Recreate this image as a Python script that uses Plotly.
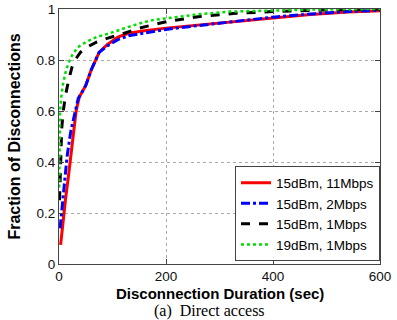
import plotly.graph_objects as go

# ---- data ----
red_x = [3, 5, 8, 12, 18, 25, 32, 38, 42, 50, 60, 68, 75, 90, 110, 130, 160, 200, 260, 330, 400, 470, 540, 600]
red_y = [0.075, 0.12, 0.18, 0.25, 0.35, 0.48, 0.60, 0.655, 0.67, 0.70, 0.76, 0.80, 0.83, 0.86, 0.89, 0.905, 0.915, 0.925, 0.937, 0.95, 0.965, 0.978, 0.988, 0.993]

blue_x = [2, 4, 7, 10, 15, 22, 30, 36, 42, 50, 60, 68, 75, 90, 110, 130, 160, 200, 260, 330, 400, 470, 540, 600]
blue_y = [0.14, 0.18, 0.25, 0.32, 0.42, 0.52, 0.60, 0.65, 0.67, 0.70, 0.76, 0.80, 0.83, 0.855, 0.88, 0.895, 0.905, 0.92, 0.935, 0.952, 0.968, 0.98, 0.99, 0.995]

black_x = [1, 2, 3, 5, 8, 12, 18, 24, 30, 40, 52, 70, 90, 115, 150, 200, 260, 330, 400, 470, 540, 600]
black_y = [0.25, 0.35, 0.45, 0.53, 0.60, 0.66, 0.72, 0.77, 0.80, 0.83, 0.85, 0.87, 0.885, 0.90, 0.925, 0.95, 0.97, 0.983, 0.99, 0.995, 0.998, 1.0]

green_x = [0.5, 1, 2, 4, 7, 12, 18, 25, 35, 50, 70, 95, 130, 170, 220, 263, 320, 400, 480, 600]
green_y = [0.3, 0.45, 0.6, 0.65, 0.70, 0.75, 0.79, 0.82, 0.85, 0.87, 0.89, 0.905, 0.93, 0.955, 0.97, 0.98, 0.99, 0.995, 0.998, 1.0]

series_names = ["15dBm, 11Mbps", "15dBm, 2Mbps", "15dBm, 1Mbps", "19dBm, 1Mbps"]
x_ticks = [0, 200, 400, 600]
y_ticks = [0, 0.2, 0.4, 0.6, 0.8, 1]
y_tick_labels = ["0", "0.2", "0.4", "0.6", "0.8", "1"]

fig = go.Figure()
fig.add_trace(go.Scatter(x=red_x, y=red_y, mode="lines", name=series_names[0],
                         line=dict(color="#ff0000", width=3, dash="solid")))
fig.add_trace(go.Scatter(x=blue_x, y=blue_y, mode="lines", name=series_names[1],
                         line=dict(color="#0000ff", width=3, dash="dashdot")))
fig.add_trace(go.Scatter(x=black_x, y=black_y, mode="lines", name=series_names[2],
                         line=dict(color="#000000", width=3, dash="dash")))
fig.add_trace(go.Scatter(x=green_x, y=green_y, mode="lines", name=series_names[3],
                         line=dict(color="#00dd00", width=2.5, dash="dot")))

axis_common = dict(
    showline=True, linecolor="#444", linewidth=1, mirror="allticks",
    ticks="inside", ticklen=5, tickcolor="#444",
    showgrid=True, gridcolor="#aaa", griddash="dot", gridwidth=1,
    zeroline=False, automargin=False,
    tickfont=dict(family="Liberation Sans, Arial", size=13.5, color="#111"),
)

fig.update_xaxes(range=[0, 600], tickvals=x_ticks, **axis_common)
fig.update_yaxes(range=[0, 1], tickvals=y_ticks, ticktext=y_tick_labels, **axis_common)

fig.update_layout(
    width=397, height=320,
    margin=dict(l=59, r=17, t=9, b=56, autoexpand=False),
    paper_bgcolor="white", plot_bgcolor="white",
    showlegend=True,
    legend=dict(x=1, y=0.01, xanchor="right", yanchor="bottom",
                bgcolor="white", bordercolor="#444", borderwidth=1,
                font=dict(family="Liberation Sans, Arial", size=13.5, color="#000"),
                tracegroupgap=0, itemwidth=30),
    annotations=[
        dict(text="<b>Fraction of Disconnections</b>", xref="paper", yref="paper",
             x=-0.14, y=0.5, xanchor="center", yanchor="middle", textangle=-90,
             showarrow=False,
             font=dict(family="Liberation Sans, Arial", size=16, color="#000")),
        dict(text="<b>Disconnection Duration (sec)</b>", xref="paper", yref="paper",
             x=0.5, y=-0.078, xanchor="center", yanchor="top", showarrow=False,
             borderpad=0,
             font=dict(family="Liberation Sans, Arial", size=15, color="#000")),
        dict(text="(a)  Direct access", xref="paper", yref="paper",
             x=0.47, y=-0.146, xanchor="center", yanchor="top", showarrow=False,
             borderpad=0,
             font=dict(family="Liberation Serif, Times New Roman", size=16, color="#000")),
    ],
)

fig.write_html("out.html", config={"displayModeBar": False},
               post_script="document.body.style.margin='0';")
